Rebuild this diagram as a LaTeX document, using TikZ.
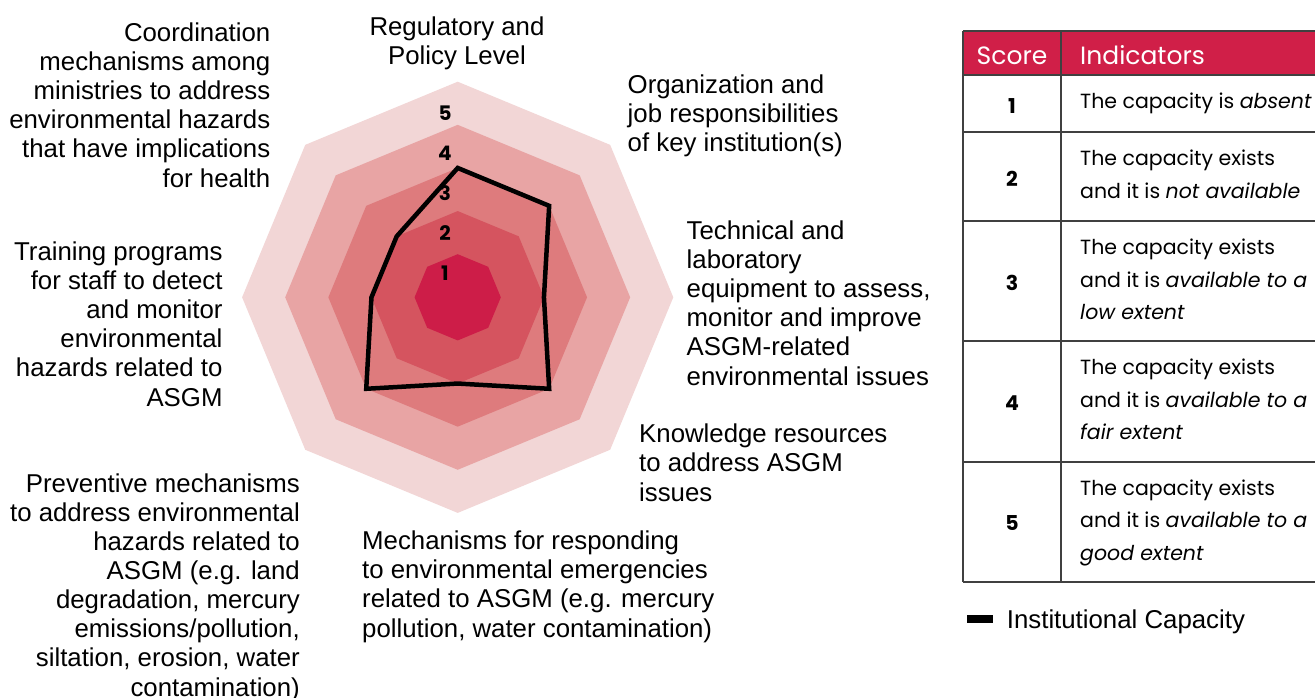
\documentclass[tikz,border=0pt]{standalone}
\usepackage{fontspec}
\setmainfont{Liberation Sans}
\newfontfamily\tabfont{Poppins}
\usepackage{tikz}
\definecolor{ringone}{HTML}{CD1D48}
\definecolor{ringtwo}{HTML}{D5545F}
\definecolor{ringthree}{HTML}{DE7B7D}
\definecolor{ringfour}{HTML}{E8A4A4}
\definecolor{ringfive}{HTML}{F2D6D6}
\definecolor{crimson}{HTML}{D01F48}
\def\ringgap{43.12pt}
\def\octagon#1{(0:#1) -- (45:#1) -- (90:#1) -- (135:#1) -- (180:#1) -- (225:#1) -- (270:#1) -- (315:#1) -- cycle}
\def\rowfont{\tabfont\fontsize{20.5}{32.5}\selectfont}

\begin{document}
\begin{tikzpicture}[x=1pt,y=-1pt,
    axislabel/.style={inner sep=0pt,font=\fontsize{25.8}{29.1}\selectfont},
    ringnum/.style={inner sep=0pt,anchor=base,font=\tabfont\bfseries\fontsize{20}{24}\selectfont},
    scorenum/.style={inner sep=0pt,anchor=base,font=\tabfont\bfseries\fontsize{20.5}{24}\selectfont},
    indicator/.style={inner sep=0pt,anchor=base west,align=left,font=\rowfont},
    tablehead/.style={inner sep=0pt,text=white,font=\tabfont\fontsize{25}{30}\selectfont},
    tablerule/.style={draw=black!75,line width=1.3pt}]
\useasboundingbox (0,0) rectangle (1315,697);
\begin{scope}[shift={(457.7,297.3)}]
  \foreach \k/\col in {5/ringfive,4/ringfour,3/ringthree,2/ringtwo,1/ringone}
    \fill[\col] \octagon{\k*\ringgap};
  \foreach \a/\v [count=\i] in {90/3,45/3,0/2,-45/3,-90/2,-135/3,180/2,135/2}
    \coordinate (d\i) at (\a:\v*\ringgap);
  \draw[line width=4.5pt,line join=miter]
    (d1) -- (d2) -- (d3) -- (d4) -- (d5) -- (d6) -- (d7) -- (d8) -- cycle;
\end{scope}
\foreach \k in {1,...,5}
  \node[ringnum] (n\k) at (445,320-40*\k) {\k};

% multi-line labels sit on the baseline of their last line
\node[axislabel,anchor=base,align=center] (regulatory) at (457,64.5)
  {Regulatory and\\Policy Level};
\node[axislabel,anchor=base west,align=left] (organization) at (627.5,151.5)
  {Organization and\\job responsibilities\\of key institution(s)};
\node[axislabel,anchor=base west,align=left] (technical) at (686.5,385)
  {Technical and\\laboratory\\equipment to assess,\\monitor and improve\\ASGM-related\\environmental issues};
\node[axislabel,anchor=base west,align=left] (knowledge) at (639,501)
  {Knowledge resources\\to address ASGM\\issues};
\node[axislabel,anchor=base west,align=left] (responding) at (362,637)
  {Mechanisms for responding\\to environmental emergencies\\related to ASGM (e.g. mercury\\pollution, water contamination)};
\node[axislabel,anchor=base east,align=right] (preventive) at (300,696)
  {Preventive mechanisms\\to address environmental\\hazards related to\\ASGM (e.g. land\\degradation, mercury\\emissions/pollution,\\siltation, erosion, water\\contamination)};
\node[axislabel,anchor=base east,align=right] (training) at (222.7,406)
  {Training programs\\for staff to detect\\and monitor\\environmental\\hazards related to\\ASGM};
\node[axislabel,anchor=base east,align=right] (coordination) at (270.5,187)
  {Coordination\\mechanisms among\\ministries to address\\environmental hazards\\that have implications\\for health};

\fill[crimson] (963,31) rectangle (1315,75);
\foreach \y in {31,75,132,221,341,462,582}
  \draw[tablerule] (963,\y) -- (1315,\y);
\foreach \x in {963,1061}
  \draw[tablerule] (\x,31) -- (\x,582);
\node[tablehead,anchor=base] (scorehead) at (1012,64) {Score};
\node[tablehead,anchor=base west] (indhead) at (1080,64) {Indicators};

\node[scorenum] (s1) at (1012,113) {1};
\node[indicator] (i1) at (1080,108.5) {The capacity is \textit{absent}};
\node[scorenum] (s2) at (1012,186.5) {2};
\node[indicator] (i2) at (1080,198) {The capacity exists\\and it is \textit{not available}};
\node[scorenum] (s3) at (1012,290) {3};
\node[indicator] (i3) at (1080,319.5) {The capacity exists\\and it is \textit{available to a}\\\textit{low extent}};
\node[scorenum] (s4) at (1012,410) {4};
\node[indicator] (i4) at (1080,439.5) {The capacity exists\\and it is \textit{available to a}\\\textit{fair extent}};
\node[scorenum] (s5) at (1012,530.5) {5};
\node[indicator] (i5) at (1080,560) {The capacity exists\\and it is \textit{available to a}\\\textit{good extent}};

\node[fill=black,minimum width=26pt,minimum height=8pt,inner sep=0pt] (keybar) at (979.7,619) {};
\node[axislabel,anchor=base west] (keytext) at (1006.7,628.3) {Institutional Capacity};
\end{tikzpicture}
\end{document}
